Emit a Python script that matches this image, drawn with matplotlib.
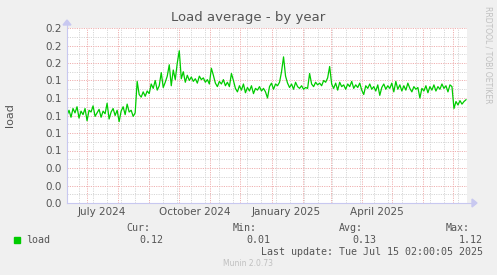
import numpy as np
import matplotlib
matplotlib.use("Agg")
import matplotlib.pyplot as plt
import matplotlib.dates as mdates
from matplotlib.patches import Rectangle

# load average, one value every 2 days from 2024-06-11
start = np.datetime64("2024-06-11")
end = np.datetime64("2025-07-15")
load = [
    0.100, 0.106, 0.098, 0.108, 0.103, 0.110, 0.097, 0.105, 0.101, 0.108,
    0.094, 0.106, 0.104, 0.111, 0.099, 0.103, 0.107, 0.098, 0.105, 0.102,
    0.114, 0.096, 0.104, 0.108, 0.100, 0.106, 0.093, 0.105, 0.110, 0.101,
    0.113, 0.104, 0.106, 0.099, 0.103,
    0.139, 0.124, 0.121, 0.127, 0.122, 0.128, 0.125,
    0.136, 0.131, 0.140, 0.129, 0.134, 0.149, 0.132,
    0.138, 0.145, 0.158, 0.134, 0.152, 0.141, 0.160,
    0.174, 0.142, 0.150, 0.138, 0.146, 0.140, 0.144,
    0.139, 0.142, 0.137, 0.145, 0.141, 0.143, 0.138,
    0.141, 0.136, 0.154, 0.146, 0.137, 0.133, 0.139,
    0.136, 0.141, 0.134, 0.138, 0.133, 0.148, 0.140,
    0.131, 0.127, 0.134, 0.129, 0.136, 0.126, 0.132,
    0.128, 0.134, 0.125, 0.131, 0.129, 0.133, 0.128,
    0.131, 0.127, 0.120, 0.133, 0.137, 0.130, 0.136,
    0.134, 0.138, 0.150, 0.167, 0.145, 0.137, 0.132,
    0.136, 0.130, 0.138, 0.133, 0.131, 0.134, 0.130,
    0.132, 0.131, 0.148, 0.136, 0.133, 0.138, 0.135,
    0.137, 0.134, 0.140, 0.138, 0.143, 0.156, 0.136,
    0.131, 0.137, 0.129, 0.138, 0.133, 0.135, 0.130,
    0.136, 0.133, 0.139, 0.131, 0.135, 0.132, 0.137,
    0.129, 0.124, 0.134, 0.131, 0.136, 0.130, 0.133,
    0.128, 0.135, 0.123, 0.132, 0.136, 0.130, 0.134,
    0.131, 0.137, 0.127, 0.139, 0.130, 0.135, 0.128,
    0.134, 0.129, 0.137, 0.131, 0.127, 0.133, 0.130,
    0.132, 0.120, 0.131, 0.128, 0.134, 0.126, 0.133,
    0.129, 0.135, 0.128, 0.133, 0.130, 0.136, 0.131,
    0.134, 0.127, 0.135, 0.133,
    0.108, 0.116, 0.112, 0.117, 0.113, 0.116, 0.118,
]
dates = start + np.arange(len(load)) * np.timedelta64(2, "D")

yticks = np.arange(0, 0.201, 0.02)
ytick_labels = ["%.1f" % v for v in yticks]
month_lines = np.arange(np.datetime64("2024-07"), np.datetime64("2025-08"),
                        np.timedelta64(1, "M")).astype("datetime64[D]")
label_months = ["2024-07", "2024-10", "2025-01", "2025-04"]
label_names = ["July 2024", "October 2024", "January 2025", "April 2025"]

stats_head = ["Cur:", "Min:", "Avg:", "Max:"]
stats_vals = ["0.12", "0.01", "0.13", "1.12"]

W, H = 497, 275
fig = plt.figure(figsize=(W / 100, H / 100), dpi=100, facecolor="#f0f0f0")
x0, x1, y0, y1 = 67, 467, 28, 203
ax = fig.add_axes([x0 / W, 1 - y1 / H, (x1 - x0) / W, (y1 - y0) / H])
ax.set_facecolor("white")
ax.set_xlim(mdates.date2num(start), mdates.date2num(end))
ax.set_ylim(0, 0.2)
for s in ax.spines.values():
    s.set_visible(False)
ax.tick_params(length=0)

grey = "#d6d6d6"
red = "#efb0b0"
dots = (0, (1.2, 1.2))
# minor horizontal / vertical grid
for v in np.arange(0.01, 0.2, 0.02):
    ax.axhline(v, color=grey, lw=0.7, ls=dots, zorder=1)
minor_days = np.arange(np.datetime64("2024-06-23"), end, np.timedelta64(14, "D"))
for d in minor_days:
    ax.axvline(mdates.date2num(d), color=grey, lw=0.7, ls=dots, zorder=1)
for v in yticks[1:]:
    ax.axhline(v, color=red, lw=0.7, ls=dots, zorder=2)
for d in month_lines:
    ax.axvline(mdates.date2num(d), color=red, lw=0.7, ls=dots, zorder=2)

ax.plot(mdates.date2num(dates), load, color="#00cc00", lw=0.9, zorder=3)

ax.set_yticks(yticks)
ax.set_yticklabels(ytick_labels, fontsize=7.5, color="#555555")
ax.tick_params(axis="y", pad=4)
# month labels centred on the month
mid = [mdates.date2num(np.datetime64(m).astype("datetime64[D]") + np.timedelta64(15, "D"))
       for m in label_months]
ax.set_xticks(mid)
ax.set_xticklabels(label_names, fontsize=7.5, color="#555555")
ax.tick_params(axis="x", pad=3)

# axis arrows
axis_col = "#c8c8f0"
fig.add_artist(plt.Line2D([x0 / W, 472 / W], [1 - y1 / H] * 2, color=axis_col, lw=0.8))
fig.add_artist(plt.Line2D([x0 / W] * 2, [1 - y1 / H, 1 - 21 / H], color=axis_col, lw=0.8))
fig.add_artist(plt.Polygon([[472 / W, 1 - 199 / H], [472 / W, 1 - 207 / H], [477 / W, 1 - y1 / H]],
                           closed=True, color=axis_col))
fig.add_artist(plt.Polygon([[63 / W, 1 - 25 / H], [71 / W, 1 - 25 / H], [x0 / W, 1 - 20 / H]],
                           closed=True, color=axis_col))

fig.text(248 / W, 1 - 18 / H, "Load average - by year", ha="center", va="center",
         fontsize=9.5, color="#555555")
fig.text(10 / W, 1 - 115 / H, "load", rotation=90, ha="center", va="center",
         fontsize=8, color="#555555")
fig.text(488 / W, 1 - 6 / H, "RRDTOOL / TOBI OETIKER", rotation=270, ha="center",
         va="top", fontsize=5.5, color="#c0c0c0")

mono = dict(family="DejaVu Sans Mono", fontsize=7.2, color="#555555")
heads_x = [150, 257, 363, 470]
vals_x = [163, 270, 376, 483]
for hx, vx, h, v in zip(heads_x, vals_x, stats_head, stats_vals):
    fig.text(hx / W, 1 - 228 / H, h, ha="right", va="center", **mono)
    fig.text(vx / W, 1 - 240 / H, v, ha="right", va="center", **mono)
fig.patches.append(Rectangle((14 / W, 1 - 243 / H), 6 / W, 6 / H, color="#00cc00",
                             transform=fig.transFigure, figure=fig))
fig.text(26 / W, 1 - 240 / H, "load", ha="left", va="center", **mono)
fig.text(483 / W, 1 - 252 / H, "Last update: Tue Jul 15 02:00:05 2025", ha="right",
         va="center", **mono)
fig.text(248 / W, 1 - 264 / H, "Munin 2.0.73", ha="center", va="center",
         fontsize=5.5, color="#c0c0c0")

fig.savefig("out.png", dpi=100, facecolor=fig.get_facecolor())
